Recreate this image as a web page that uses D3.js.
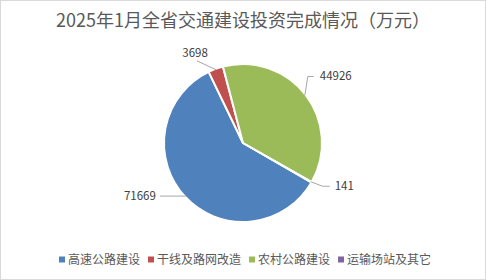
<!DOCTYPE html>
<html><head><meta charset="utf-8">
<script src="https://cdn.jsdelivr.net/npm/d3@7"></script>
<style>body{margin:0;background:#fff}svg{display:block}</style>
</head><body>
<script>
const categories = ["高速公路建设","干线及路网改造","农村公路建设","运输场站及其它"];
const values = [71669, 3698, 44926, 141];
const colors = ["#4F81BD","#C0504D","#9BBB59","#8064A2"];
const title = "2025年1月全省交通建设投资完成情况（万元）";

// label layout (leader line elbow offsets from the slice edge, in px)
const labelLayout = [
  {elbow:[-26,0], end:[-26,0], anchor:"end", tdx:-4, tdy:0},
  {elbow:[-19,-9], end:[-19,-9], anchor:"middle", tdx:-2, tdy:-8},
  {elbow:[3,-19], end:[9,-19], anchor:"start", tdx:6, tdy:0},
  {elbow:[12,4.5], end:[19,4.5], anchor:"start", tdx:5, tdy:0}
];

const W=486,H=280, cx=243, cy=143, R=79;
const font = "'Noto Sans CJK SC','Noto Sans',sans-serif";
const svg = d3.select("body").append("svg").attr("width",W).attr("height",H);
svg.append("rect").attr("x",0.5).attr("y",0.5).attr("width",W-1).attr("height",H-1)
  .attr("fill","#fff").attr("stroke","#d9d9d9");

const tt = svg.append("text").attr("x",cx).attr("y",27).attr("text-anchor","middle")
  .attr("font-family",font).attr("font-size",18).attr("fill","#595959").text(title);
// fit title width to reference span
const tw = tt.node().getComputedTextLength();
tt.attr("textLength",374).attr("lengthAdjust","spacingAndGlyphs");

const start = 120*Math.PI/180;
const pie = d3.pie().sort(null).startAngle(start).endAngle(start+2*Math.PI);
const arcs = pie(values);
const arc = d3.arc().innerRadius(0).outerRadius(R);
const g = svg.append("g").attr("transform",`translate(${cx},${cy})`);
g.selectAll("path").data(arcs).join("path").attr("d",arc)
  .attr("fill",(d,i)=>colors[i]).attr("stroke","#fff").attr("stroke-width",2).attr("stroke-linejoin","round");

arcs.forEach((d,i)=>{
  const a=(d.startAngle+d.endAngle)/2;
  const px=Math.sin(a)*(R-1), py=-Math.cos(a)*(R-1);
  const L=labelLayout[i];
  const ex=px+L.elbow[0], ey=py+L.elbow[1];
  const fx=px+L.end[0], fy=py+L.end[1];
  g.append("polyline").attr("points",`${px},${py} ${ex},${ey} ${fx},${fy}`)
    .attr("fill","none").attr("stroke","#a6a6a6").attr("stroke-width",1);
  g.append("text").attr("x",fx+L.tdx).attr("y",fy+L.tdy).attr("dy","0.35em")
    .attr("text-anchor",L.anchor).attr("font-family",font).attr("font-size",11.5)
    .attr("fill","#404040").text(d3.format("d")(values[i]));
});

// legend
const lg = svg.append("g");
let x=59; const ly=260;
categories.forEach((c,i)=>{
  lg.append("rect").attr("x",x).attr("y",ly-3.5).attr("width",6).attr("height",6).attr("fill",colors[i]);
  const t=lg.append("text").attr("x",x+9).attr("y",ly).attr("dy","0.35em")
    .attr("font-family",font).attr("font-size",12).attr("fill","#595959").text(c);
  x += 9 + t.node().getComputedTextLength() + 8;
});
</script>
</body></html>
